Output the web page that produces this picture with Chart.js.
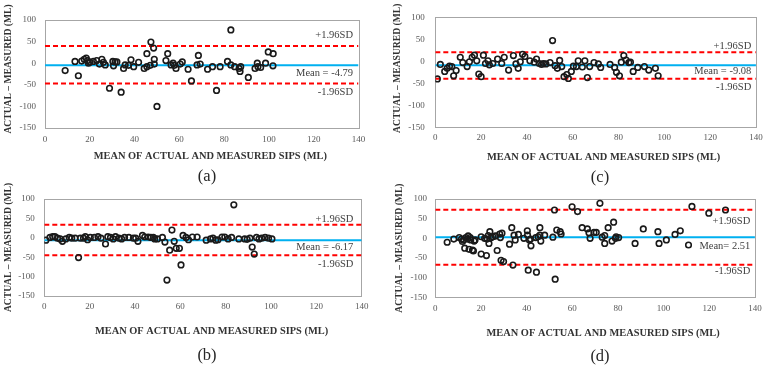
<!DOCTYPE html>
<html>
<head>
<meta charset="utf-8">
<script src="https://cdn.jsdelivr.net/npm/chart.js@4.4.1/dist/chart.umd.min.js"></script>
<style>
  body { margin: 0; background: #fff; width: 768px; height: 366px; position: relative; overflow: hidden; font-family: "Liberation Serif", serif; }
  canvas { position: absolute; }
  .sub { position: absolute; font-size: 16.5px; color: #262626; transform: translate(-50%, -50%); }
</style>
</head>
<body>
<canvas id="chartA" width="384" height="162" style="left:0;top:0"></canvas>
<canvas id="chartB" width="384" height="158" style="left:0;top:180px"></canvas>
<canvas id="chartC" width="384" height="163" style="left:384px;top:0"></canvas>
<canvas id="chartD" width="384" height="159" style="left:384px;top:180px"></canvas>
<div class="sub" style="left:207px;top:176px">(a)</div>
<div class="sub" style="left:207px;top:355px">(b)</div>
<div class="sub" style="left:600px;top:177px">(c)</div>
<div class="sub" style="left:600px;top:356px">(d)</div>
<script>
// tick values shared by all four panels
const xTicks = [0, 20, 40, 60, 80, 100, 120, 140];
const yTicks = [-150, -100, -50, 0, 50, 100];

// panel (a)
const aX = [9, 13.4, 14.9, 16.4, 17.5, 18.4, 19, 19.4, 20.1, 21.6, 23.1, 24.3, 25.4, 26.1, 26.9, 28.8, 30.3, 30.6, 31.3, 32.1, 34, 35.1, 35.8, 37.3, 38.4, 39.6, 41.8, 44.3, 45.5, 45.5, 47, 47.3, 48.5, 48.8, 48.8, 50, 54, 54.8, 56.3, 57.2, 57.8, 58.5, 60.4, 61.3, 63.9, 65.4, 67.9, 68.5, 69.3, 72.6, 74.8, 76.6, 78.2, 81.5, 83, 83, 84.7, 86.7, 87.1, 87.4, 90.8, 93.8, 94.8, 95.1, 96.3, 98.5, 99.7, 101.9, 101.8];
const aY = [-17, 4, -29, 5, 9, 12, 6, 0, 2, 4, 6, -2, 9, 2, -4, -58, 4, -6, 3, 3, -67, -12, -4, -5, 8, -8, 2, -12, -8, 22, -5, 49, 35, 9, -2, -100, 6, 22, -4, 0, -5, -12, -2, 3, -14, -41, -4, 18, -2, -14, -8, -63, -8, 4, 77, -4, -8, -12, -19, -8, -33, -12, 0, -8, -10, 0, 26, 22, -6];
const aLimits = [-4.79, 40, -47]; // mean, +1.96SD, -1.96SD

// panel (b)
const bX = [0.7, 2.5, 3.7, 4.7, 5.8, 7, 8, 9.5, 11, 12.1, 13.6, 15.1, 15.9, 17.3, 18.1, 19.1, 20.3, 22.1, 23.7, 25, 27, 28, 29.2, 30.4, 31.4, 32.9, 34.1, 35.4, 37.3, 39.3, 40.3, 41.3, 43.3, 44.3, 45.8, 47, 48.1, 48.7, 49.9, 52.1, 53.2, 54.1, 55.3, 56.3, 57.3, 58.2, 59.6, 60.3, 61.2, 62.5, 63.6, 65.3, 67.4, 71.4, 73.3, 74.4, 75.6, 76.6, 78.4, 79.6, 81.1, 82.6, 83.6, 85.8, 88.4, 89.5, 90.7, 91.7, 92.6, 93.6, 94.7, 95.9, 97.4, 98.9, 100.4];
const bY = [-6, 1, 3, 3, -1, -3, -9, -3, 1, -1, -1, -51, -1, -1, 3, -5, 1, 1, 3, -1, -16, 3, 1, -3, 3, -1, -3, 1, 1, -1, -1, -9, 6, 2, 2, 1, 1, -3, -3, 1, -11, -109, -32, 20, -9, -27, -27, -70, 6, 1, -5, 2, 2, -6, -3, -1, -6, -5, 2, 2, -3, 1, 85, -3, -3, -4, -1, -24, -42, 1, -3, -1, 1, -1, -3];
const bLimits = [-6.17, 33.5, -45];

// panel (c)
const cX = [0.9, 2.2, 4.1, 5.2, 6.2, 7.2, 8, 9.1, 10.9, 12, 13.9, 14.9, 16.1, 17.1, 18.1, 19, 20, 21, 21.9, 23, 23.6, 25.1, 27.2, 29, 30.1, 32, 34.1, 35.2, 36.2, 37.1, 38.1, 39.1, 41.3, 43.2, 44.2, 45.4, 46.4, 47.2, 48.3, 50.1, 51.2, 52.3, 53.3, 54.3, 55.2, 56.2, 57.4, 58.1, 59.4, 60.3, 61.6, 62.4, 64.2, 65.3, 66.4, 67.4, 69.3, 71.2, 72.2, 76.3, 78.3, 79.1, 80.4, 81.2, 82.3, 83.3, 84.5, 85.2, 86.4, 88.4, 91.3, 93.2, 96.1, 97.3];
const cY = [-40, -7, -23, -16, -11, -12, -33, -21, 9, -3, -12, -1, 9, 14, 1, -29, -35, 14, -5, 1, -8, -5, 5, -5, 9, -20, 13, -6, -16, -1, 16, 11, 1, -2, 5, -5, -7, -5, -6, -3, 47, -10, -16, 2, -12, -35, -30, -39, -23, -11, -12, 1, -13, 1, -37, -12, -3, -6, -14, -7, -14, -25, -33, -2, 13, 3, -3, -2, -23, -14, -12, -20, -16, -33];
const cLimits = [-9.08, 20.5, -39.5];

// panel (d)
const dX = [5.2, 8.1, 10.5, 11.5, 11.9, 12.4, 12.9, 13.4, 14.1, 14.4, 14.8, 15.3, 15.5, 16.3, 16.7, 17, 17.4, 20.1, 20.1, 21.6, 22.4, 22.7, 23.2, 23.5, 23.9, 24.5, 25.3, 26.3, 27.1, 28.2, 28.5, 28.8, 29.2, 29.9, 32.5, 33.5, 34, 34.5, 35, 36.4, 38.8, 40.3, 40.4, 40.7, 41.2, 41.9, 41.7, 44, 44.3, 45, 45.8, 45.8, 46.2, 47.9, 51.5, 52.2, 52.5, 53.2, 54.7, 55.1, 59.9, 62.3, 64.3, 66.6, 67.3, 67.8, 69.5, 70.5, 72.1, 73.1, 74.2, 74.2, 75.7, 77.4, 78.1, 78.9, 79.2, 80.3, 87.5, 91.1, 97.5, 98, 101.2, 105, 107.3, 110.9, 112.4, 119.8, 127.1];
const dY = [-10, -2, 2, -2, -8, -4, -25, 2, -2, 6, -28, 2, -4, -30, -32, -7, -4, 4, -40, 0, -44, -2, 7, -13, 17, 2, 4, 6, -31, 11, 2, -56, 13, -59, -15, 27, -68, 8, -4, 10, 0, 19, 8, -81, -4, -19, -2, 2, -86, 4, 27, 8, -7, 8, 3, 72, -104, 21, 17, 11, 80, 68, 27, 24, 14, 0, 15, 15, 89, 3, 7, -13, 27, -7, 41, 0, 4, 2, -13, 24, 17, -13, -4, 10, 19, -17, 81, 64, 72];
const dLimits = [2.51, 72.5, -67.5];

const xTitle = 'MEAN OF ACTUAL AND MEASURED SIPS (ML)';
const yTitle = 'ACTUAL – MEASURED (ML)';

const SERIF = '"Liberation Serif", "Times New Roman", serif';

// box round the plot area, axis titles, SD / mean captions
const framePlugin = {
  id: 'frame',
  beforeDatasetsDraw(chart) {
    const { ctx, chartArea: a } = chart;
    ctx.save();
    ctx.strokeStyle = '#a6a6a6';
    ctx.lineWidth = 1;
    ctx.strokeRect(Math.round(a.left) + 0.5, Math.round(a.top) + 0.5,
      Math.round(a.right - a.left), Math.round(a.bottom - a.top));
    ctx.restore();
  },
  afterDatasetsDraw(chart, args, opts) {
    const { ctx, chartArea: a, scales } = chart;
    ctx.save();
    ctx.font = '10.5px ' + SERIF;
    ctx.fillStyle = '#404040';
    ctx.textAlign = 'right';
    ctx.textBaseline = 'middle';
    opts.captions.forEach(c => {
      ctx.fillText(c.text, a.right - opts.inset, scales.y.getPixelForValue(c.value) + c.dy);
    });
    // axis titles
    ctx.fillStyle = '#333';
    ctx.textAlign = 'center';
    ctx.font = 'bold 10.4px ' + SERIF;
    ctx.fillText(xTitle, (a.left + a.right) / 2 + opts.xt[0], a.bottom + opts.xt[1]);
    ctx.translate(opts.yt[0], (a.top + a.bottom) / 2 + opts.yt[1]);
    ctx.rotate(-Math.PI / 2);
    ctx.font = 'bold 9.6px ' + SERIF;
    ctx.fillText(yTitle, 0, 0);
    ctx.restore();
  }
};

const makePanel = (id, xs, ys, limits, meanText, g) => {
  const [mean, upper, lower] = limits;
  const flat = (v) => [{ x: xTicks[0], y: v }, { x: xTicks[xTicks.length - 1], y: v }];
  return new Chart(document.getElementById(id), {
    type: 'scatter',
    data: {
      datasets: [
        {
          data: xs.map((x, i) => ({ x, y: ys[i] })),
          pointRadius: 2.8,
          pointBorderWidth: 1.6,
          pointBorderColor: '#1a1a1a',
          pointBackgroundColor: 'rgba(255,255,255,0)',
        },
        { type: 'line', data: flat(mean), borderColor: '#00b0f0', borderWidth: 2, pointRadius: 0 },
        { type: 'line', data: flat(upper), borderColor: '#ff0000', borderWidth: 2, borderDash: [5, 3], pointRadius: 0 },
        { type: 'line', data: flat(lower), borderColor: '#ff0000', borderWidth: 2, borderDash: [5, 3], pointRadius: 0 },
      ],
    },
    options: {
      responsive: false,
      animation: false,
      devicePixelRatio: 1,
      layout: { padding: { top: g.top, right: g.right, left: 0, bottom: 0 } },
      plugins: {
        legend: { display: false },
        tooltip: { enabled: false },
        frame: {
          inset: g.inset,
          xt: g.xt,
          yt: g.yt,
          captions: [
            { text: '+1.96SD', value: upper, dy: g.dy[0] },
            { text: meanText, value: mean, dy: g.dy[1] },
            { text: '-1.96SD', value: lower, dy: g.dy[2] },
          ],
        },
      },
      scales: {
        x: {
          min: xTicks[0],
          max: xTicks[xTicks.length - 1],
          afterBuildTicks: (s) => { s.ticks = xTicks.map(v => ({ value: v })); },
          afterFit: (s) => { s.height = g.xh; },
          grid: { display: false, drawTicks: false },
          border: { display: false },
          ticks: { padding: g.xpad, maxRotation: 0, autoSkip: false, color: '#595959', font: { family: SERIF, size: 9 } },
        },
        y: {
          min: yTicks[0],
          max: yTicks[yTicks.length - 1],
          afterBuildTicks: (s) => { s.ticks = yTicks.map(v => ({ value: v })); },
          afterFit: (s) => { s.width = g.yw; },
          grid: { display: false, drawTicks: false },
          border: { display: false },
          ticks: { padding: g.ypad, color: '#595959', font: { family: SERIF, size: 9 } },
        },
      },
    },
    plugins: [framePlugin],
  });
};

makePanel('chartA', aX, aY, aLimits, 'Mean = -4.79',
  { top: 20, right: 25.5, yw: 45, xh: 34, xpad: 6, ypad: 9, inset: 5.5, dy: [-11, 8, 9], xt: [8.5, 28], yt: [8.3, -5] });
makePanel('chartB', bX, bY, bLimits, 'Mean = -6.17',
  { top: 19, right: 22.3, yw: 44.3, xh: 42, xpad: 5, ypad: 9.5, inset: 8.4, dy: [-6, 6.7, 8.7], xt: [8.5, 35.7], yt: [8.3, 0] });
makePanel('chartC', cX, cY, cLimits, 'Mean = -9.08',
  { top: 17.3, right: 9.3, yw: 51.3, xh: 35.7, xpad: 5.3, ypad: 10.6, inset: 4.7, dy: [-6.3, 5.7, 9], xt: [8, 29.7], yt: [14, -4] });
makePanel('chartD', dX, dY, dLimits, 'Mean= 2.51',
  { top: 19, right: 9.3, yw: 51.3, xh: 41.7, xpad: 6.3, ypad: 8.3, inset: 4.7, dy: [11, 8.7, 6.7], xt: [8, 35.7], yt: [15.7, 0] });
</script>
</body>
</html>
